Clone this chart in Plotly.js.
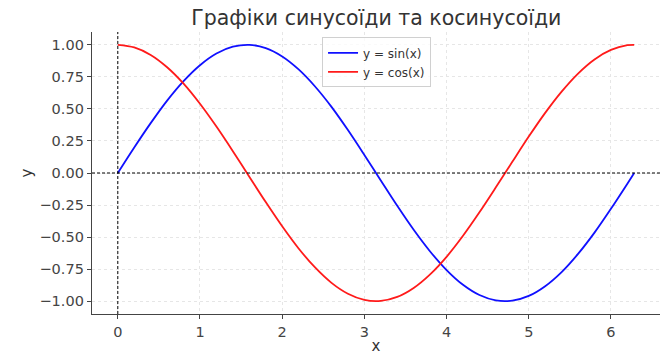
<!DOCTYPE html>
<html>
<head>
<meta charset="utf-8">
<script src="https://cdn.plot.ly/plotly-3.0.1.min.js"></script>
<style>html,body{margin:0;padding:0;background:#fff;}#chart{width:666px;height:355px;}</style>
</head>
<body>
<div id="chart"></div>
<script>
const xValues = [0, 0.2, 0.4, 0.6, 0.8, 1.0, 1.2, 1.4, 1.6, 1.8, 2.0, 2.2, 2.4, 2.6, 2.8, 3.0, 3.2, 3.4, 3.6, 3.8, 4.0, 4.2, 4.4, 4.6, 4.8, 5.0, 5.2, 5.4, 5.6, 5.8, 6.0, 6.2, 6.283];
const sinValues = [0.000, 0.199, 0.389, 0.565, 0.717, 0.841, 0.932, 0.985, 1.000, 0.974, 0.909, 0.808, 0.675, 0.516, 0.335, 0.141, -0.058, -0.256, -0.443, -0.612, -0.757, -0.872, -0.952, -0.994, -0.996, -0.959, -0.883, -0.773, -0.631, -0.465, -0.279, -0.083, 0.000];
const cosValues = [1.000, 0.980, 0.921, 0.825, 0.697, 0.540, 0.362, 0.170, -0.029, -0.227, -0.416, -0.589, -0.737, -0.857, -0.942, -0.990, -0.998, -0.967, -0.897, -0.791, -0.654, -0.490, -0.307, -0.112, 0.087, 0.284, 0.469, 0.635, 0.776, 0.886, 0.960, 0.997, 1.000];
const seriesNames = ["y = sin(x)", "y = cos(x)"];
const xTicks = [0, 1, 2, 3, 4, 5, 6];
const yTicks = [-1.0, -0.75, -0.5, -0.25, 0, 0.25, 0.5, 0.75, 1.0];
const yTickText = ["\u22121.00", "\u22120.75", "\u22120.50", "\u22120.25", "0.00", "0.25", "0.50", "0.75", "1.00"];

const traces = [
  {x: xValues, y: sinValues, name: seriesNames[0], mode: 'lines', line: {color: '#1010ff', width: 1.8, shape: 'spline', smoothing: 0.9}},
  {x: xValues, y: cosValues, name: seriesNames[1], mode: 'lines', line: {color: '#ff1a1a', width: 1.8, shape: 'spline', smoothing: 0.9}}
];

const axisCommon = {
  showline: true, linecolor: '#444', linewidth: 1.2,
  ticks: 'outside', ticklen: 4, tickcolor: '#444', tickwidth: 1,
  showgrid: true, gridcolor: '#e6e6e6', griddash: 'dot', gridwidth: 1,
  zeroline: false, mirror: false,
  tickfont: {family: 'DejaVu Sans', size: 14.5, color: '#444'}
};

const layout = {
  width: 666, height: 355,
  margin: {l: 92, r: 6, t: 31.6, b: 40.6},
  paper_bgcolor: '#fff', plot_bgcolor: '#fff',
  title: {text: 'Графіки синусоїди та косинусоїди', font: {family: 'DejaVu Sans', size: 20.5, color: '#333'}, x: 0.565, xanchor: 'center', y: 0.95, yanchor: 'middle'},
  xaxis: Object.assign({}, axisCommon, {range: [-0.314, 6.597], tickvals: xTicks, ticktext: xTicks.map(String),
    title: {text: 'x', font: {family: 'DejaVu Sans', size: 15, color: '#333'}, standoff: 3}}),
  yaxis: Object.assign({}, axisCommon, {range: [-1.1, 1.1], tickvals: yTicks, ticktext: yTickText,
    title: {text: 'y', font: {family: 'DejaVu Sans', size: 15, color: '#333'}, standoff: 3}}),
  showlegend: true,
  legend: {x: 0.405, y: 0.981, xanchor: 'left', yanchor: 'top', bgcolor: 'rgba(255,255,255,0.8)', bordercolor: '#d0d0d0', borderwidth: 1,
    font: {family: 'DejaVu Sans', size: 12, color: '#333'}, itemwidth: 30, tracegroupgap: 0},
  shapes: [
    {type: 'line', xref: 'paper', yref: 'y', x0: 0, x1: 1, y0: 0, y1: 0, line: {color: '#000', width: 1, dash: '3px,2px'}},
    {type: 'line', xref: 'x', yref: 'paper', x0: 0, x1: 0, y0: 0, y1: 1, line: {color: '#000', width: 1, dash: '3px,2px'}}
  ]
};

Plotly.newPlot('chart', traces, layout, {displayModeBar: false, staticPlot: true});
</script>
</body>
</html>
